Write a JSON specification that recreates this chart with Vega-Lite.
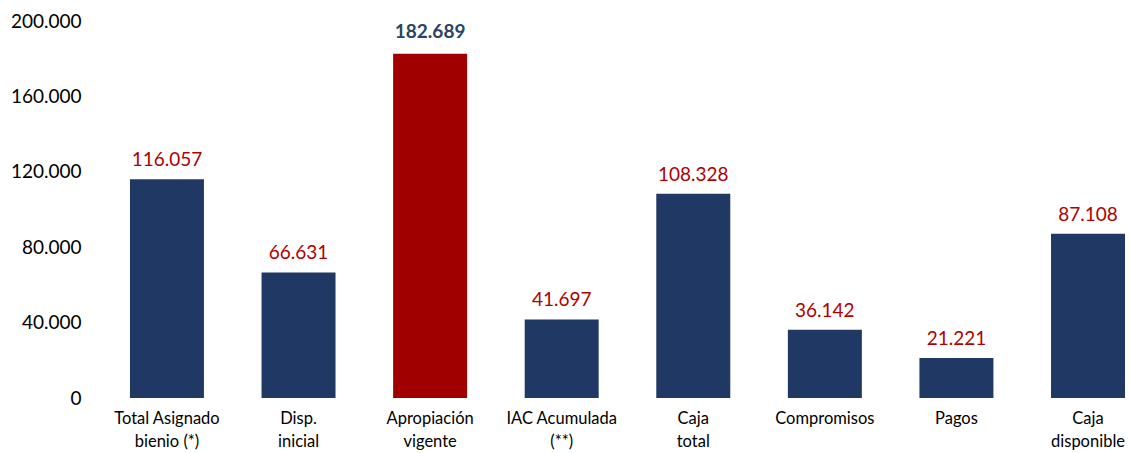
{
  "$schema": "https://vega.github.io/schema/vega-lite/v6.json",
  "autosize": {"type": "none"},
  "width": 1029,
  "height": 377,
  "padding": {"left": 101, "top": 21, "right": 0, "bottom": 55},
  "background": "white",
  "config": {
    "locale": {"number": {"decimal": ",", "thousands": ".", "grouping": [3], "currency": ["", ""]}},
    "view": {"stroke": null},
    "font": "Lato"
  },
  "data": {
    "values": [
      {"categoria": "Total Asignado\nbienio (*)", "valor": 116057},
      {"categoria": "Disp.\ninicial", "valor": 66631},
      {"categoria": "Apropiación\nvigente", "valor": 182689},
      {"categoria": "IAC Acumulada\n(**)", "valor": 41697},
      {"categoria": "Caja\ntotal", "valor": 108328},
      {"categoria": "Compromisos", "valor": 36142},
      {"categoria": "Pagos", "valor": 21221},
      {"categoria": "Caja\ndisponible", "valor": 87108}
    ]
  },
  "encoding": {
    "x": {
      "field": "categoria",
      "type": "nominal",
      "sort": null,
      "scale": {"paddingInner": 0.4377, "paddingOuter": 0.129, "align": 0.853},
      "axis": {
        "title": null,
        "labelAngle": 0,
        "domain": false,
        "ticks": false,
        "tickSize": 0,
        "labelPadding": 12,
        "labelFontSize": 16.5,
        "labelFontWeight": "normal",
        "labelColor": "#000000",
        "labelFont": "Lato",
        "labelLineHeight": 23,
        "labelBaseline": "top",
        "labelExpr": "split(datum.label, '\\n')"
      }
    },
    "y": {
      "field": "valor",
      "type": "quantitative",
      "scale": {"domain": [0, 200000], "nice": false},
      "axis": {
        "title": null,
        "values": [0, 40000, 80000, 120000, 160000, 200000],
        "format": ",d",
        "domain": false,
        "ticks": false,
        "tickSize": 0,
        "grid": false,
        "labelPadding": 20,
        "labelFontSize": 19,
        "labelColor": "#000000",
        "labelFont": "Lato"
      }
    }
  },
  "layer": [
    {
      "mark": {"type": "bar"},
      "encoding": {
        "color": {
          "condition": {"test": "indexof(datum.categoria, 'Apropiación') === 0", "value": "#A00000"},
          "value": "#203864"
        }
      }
    },
    {
      "transform": [{"filter": "indexof(datum.categoria, 'Apropiación') !== 0"}],
      "mark": {"type": "text", "baseline": "alphabetic", "dy": -13, "fontSize": 19, "font": "Lato", "color": "#B00000"},
      "encoding": {
        "text": {"field": "valor", "type": "quantitative", "format": ",d"}
      }
    },
    {
      "transform": [{"filter": "indexof(datum.categoria, 'Apropiación') === 0"}],
      "mark": {"type": "text", "baseline": "alphabetic", "dy": -16, "fontSize": 19, "font": "Lato", "fontWeight": "bold", "color": "#2A4468"},
      "encoding": {
        "text": {"field": "valor", "type": "quantitative", "format": ",d"}
      }
    }
  ]
}
